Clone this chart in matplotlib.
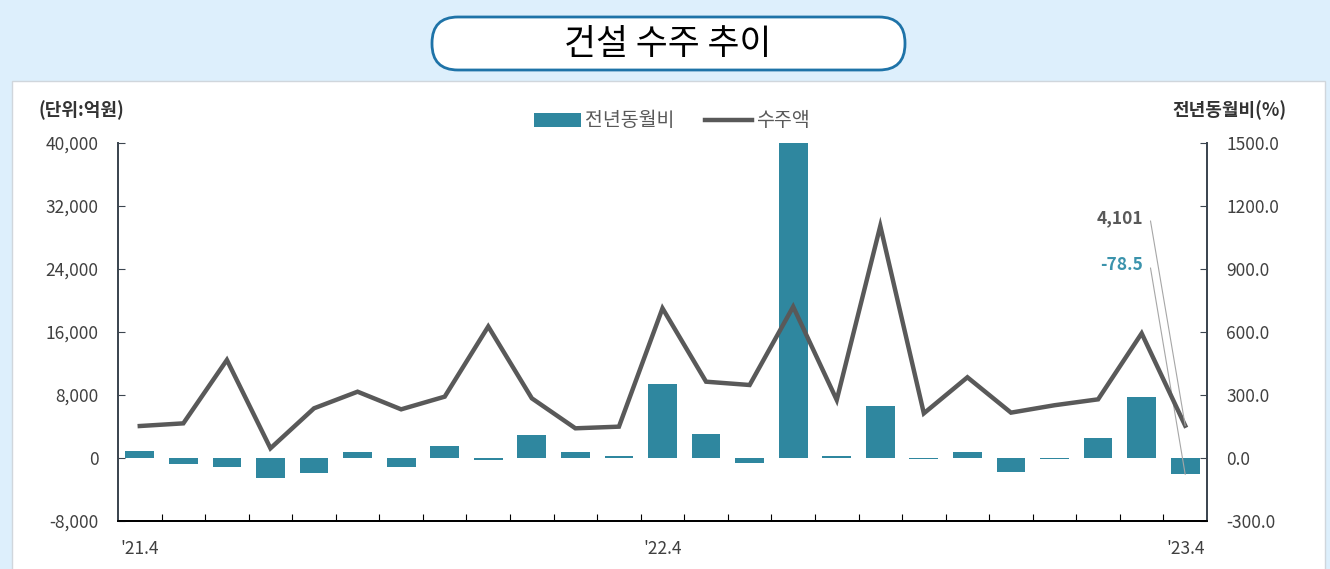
import numpy as np
import matplotlib.pyplot as plt
from matplotlib.patches import FancyBboxPatch, Rectangle

plt.rcParams['font.family'] = ['Noto Sans CJK KR', 'DejaVu Sans']

# 2021.4 ~ 2023.4 monthly
months = ["'21.4", "'21.5", "'21.6", "'21.7", "'21.8", "'21.9", "'21.10", "'21.11", "'21.12",
          "'22.1", "'22.2", "'22.3", "'22.4", "'22.5", "'22.6", "'22.7", "'22.8", "'22.9",
          "'22.10", "'22.11", "'22.12", "'23.1", "'23.2", "'23.3", "'23.4"]
amount = [4060, 4400, 12450, 1230, 6310, 8420, 6180, 7790, 16700, 7580, 3770, 3980, 19010,
          9690, 9270, 19210, 7370, 29460, 5670, 10250, 5760, 6700, 7450, 15830, 4101]
yoy = [35, -30, -44, -94, -73, 30, -44, 58, -8, 110, 30, 10, 351,
       114, -25, 1800, 11, 248, -5, 30, -68, -5, 94, 289, -78.5]
shown_labels = ["'21.4", "'22.4", "'23.4"]

bar_color = '#2F879F'
line_color = '#595959'
txt_color = '#404040'

W, H = 1330, 569
fig = plt.figure(figsize=(W / 100, H / 100), dpi=100)
fig.patch.set_facecolor('#DDEFFC')

# background panel + title box in pixel coordinates
bg = fig.add_axes([0, 0, 1, 1], zorder=0)
bg.set_xlim(0, W)
bg.set_ylim(H, 0)
bg.axis('off')
bg.add_patch(Rectangle((12, 81), 1313, 500, facecolor='white', edgecolor='#D0D6DC', lw=1))
bg.add_patch(FancyBboxPatch((432, 17), 473, 53, boxstyle='round,pad=0,rounding_size=26',
                            facecolor='white', edgecolor='#1E73A8', lw=2))
bg.text(668, 44, '건설 수주 추이', ha='center', va='center', fontsize=25, color='black')

x = np.arange(len(months))

ax = fig.add_axes([118 / W, 1 - 521 / H, (1207 - 118) / W, (521 - 143) / H], zorder=1)
ax.patch.set_alpha(0)
bars = ax.bar(x, yoy, width=0.66, color=bar_color, label='전년동월비', zorder=2)
ax.set_ylim(-300, 1500)
ax.set_yticks(np.arange(-300, 1501, 300))
ax.set_yticklabels([f'{v:.1f}' for v in np.arange(-300, 1501, 300)])
ax.yaxis.tick_right()
ax.set_xlim(-0.5, len(months) - 0.5)

ax2 = ax.twinx()
ax2.yaxis.tick_left()
line, = ax2.plot(x, amount, color=line_color, lw=3.2, label='수주액', solid_joinstyle='miter')
ax2.set_ylim(-8000, 40000)
ax2.set_yticks(np.arange(-8000, 40001, 8000))
ax2.set_yticklabels([f'{v:,}' for v in np.arange(-8000, 40001, 8000)])

for a in (ax, ax2):
    a.spines['top'].set_visible(False)
    a.spines['left'].set_color('#3C4650')
    a.spines['right'].set_color('#3C4650')
    a.spines['bottom'].set_color('black')
    a.spines['left'].set_linewidth(1.3)
    a.spines['right'].set_linewidth(1.3)
    a.spines['bottom'].set_linewidth(1.3)

ax.tick_params(axis='y', direction='in', length=5, pad=14, labelsize=12.5, labelcolor=txt_color,
               color='#3C4650', right=True, left=False, labelright=True, labelleft=False)
ax2.tick_params(axis='y', direction='in', length=5, pad=14, labelsize=12.5, labelcolor=txt_color,
                color='#3C4650', left=True, right=False, labelleft=True, labelright=False)

# category boundaries as ticks, labels at selected months
ax.set_xticks(np.arange(0.5, len(months) - 1, 1.0))
ax.set_xticklabels([])
ax.tick_params(axis='x', which='major', direction='in', length=5, color='black')
ax.set_xticks([months.index(m) for m in shown_labels], minor=True)
ax.set_xticklabels(shown_labels, minor=True)
ax.tick_params(axis='x', which='minor', length=0, pad=14, labelsize=12.5, labelcolor=txt_color)

# end value callouts
ax2.annotate(f'{amount[-1]:,}', xy=(x[-1], amount[-1]), xytext=(1143, H - 218),
             textcoords='figure pixels', ha='right', va='center', fontsize=12.5,
             fontweight='bold', color='#595959',
             arrowprops=dict(arrowstyle='-', color='#A6A6A6', lw=0.8, relpos=(1, 0.5),
                             shrinkA=4, shrinkB=0,
                             connectionstyle='arc,angleA=0,armA=7,angleB=90,armB=0,rad=0'))
ax.annotate(f'{yoy[-1]}', xy=(x[-1], yoy[-1]), xytext=(1143, H - 265),
            textcoords='figure pixels', ha='right', va='center', fontsize=12.5,
            fontweight='bold', color='#3B93AC',
            arrowprops=dict(arrowstyle='-', color='#A6A6A6', lw=0.8, relpos=(1, 0.5),
                            shrinkA=4, shrinkB=0,
                            connectionstyle='arc,angleA=0,armA=7,angleB=90,armB=0,rad=0'))

fig.text(38 / W, 1 - 110 / H, '(단위:억원)', ha='left', va='center', fontsize=13,
         fontweight='bold', color='#333333')
fig.text(1287 / W, 1 - 110 / H, '전년동월비(%)', ha='right', va='center', fontsize=13,
         fontweight='bold', color='#333333')

fig.legend(handles=[bars, line], labels=['전년동월비', '수주액'], loc='center',
           bbox_to_anchor=(672 / W, 1 - 121 / H), ncol=2, frameon=False, fontsize=14,
           labelcolor='#595959', handlelength=2.4, handletextpad=0.2, columnspacing=1.6)

fig.savefig('out.png', dpi=100, facecolor=fig.get_facecolor())
